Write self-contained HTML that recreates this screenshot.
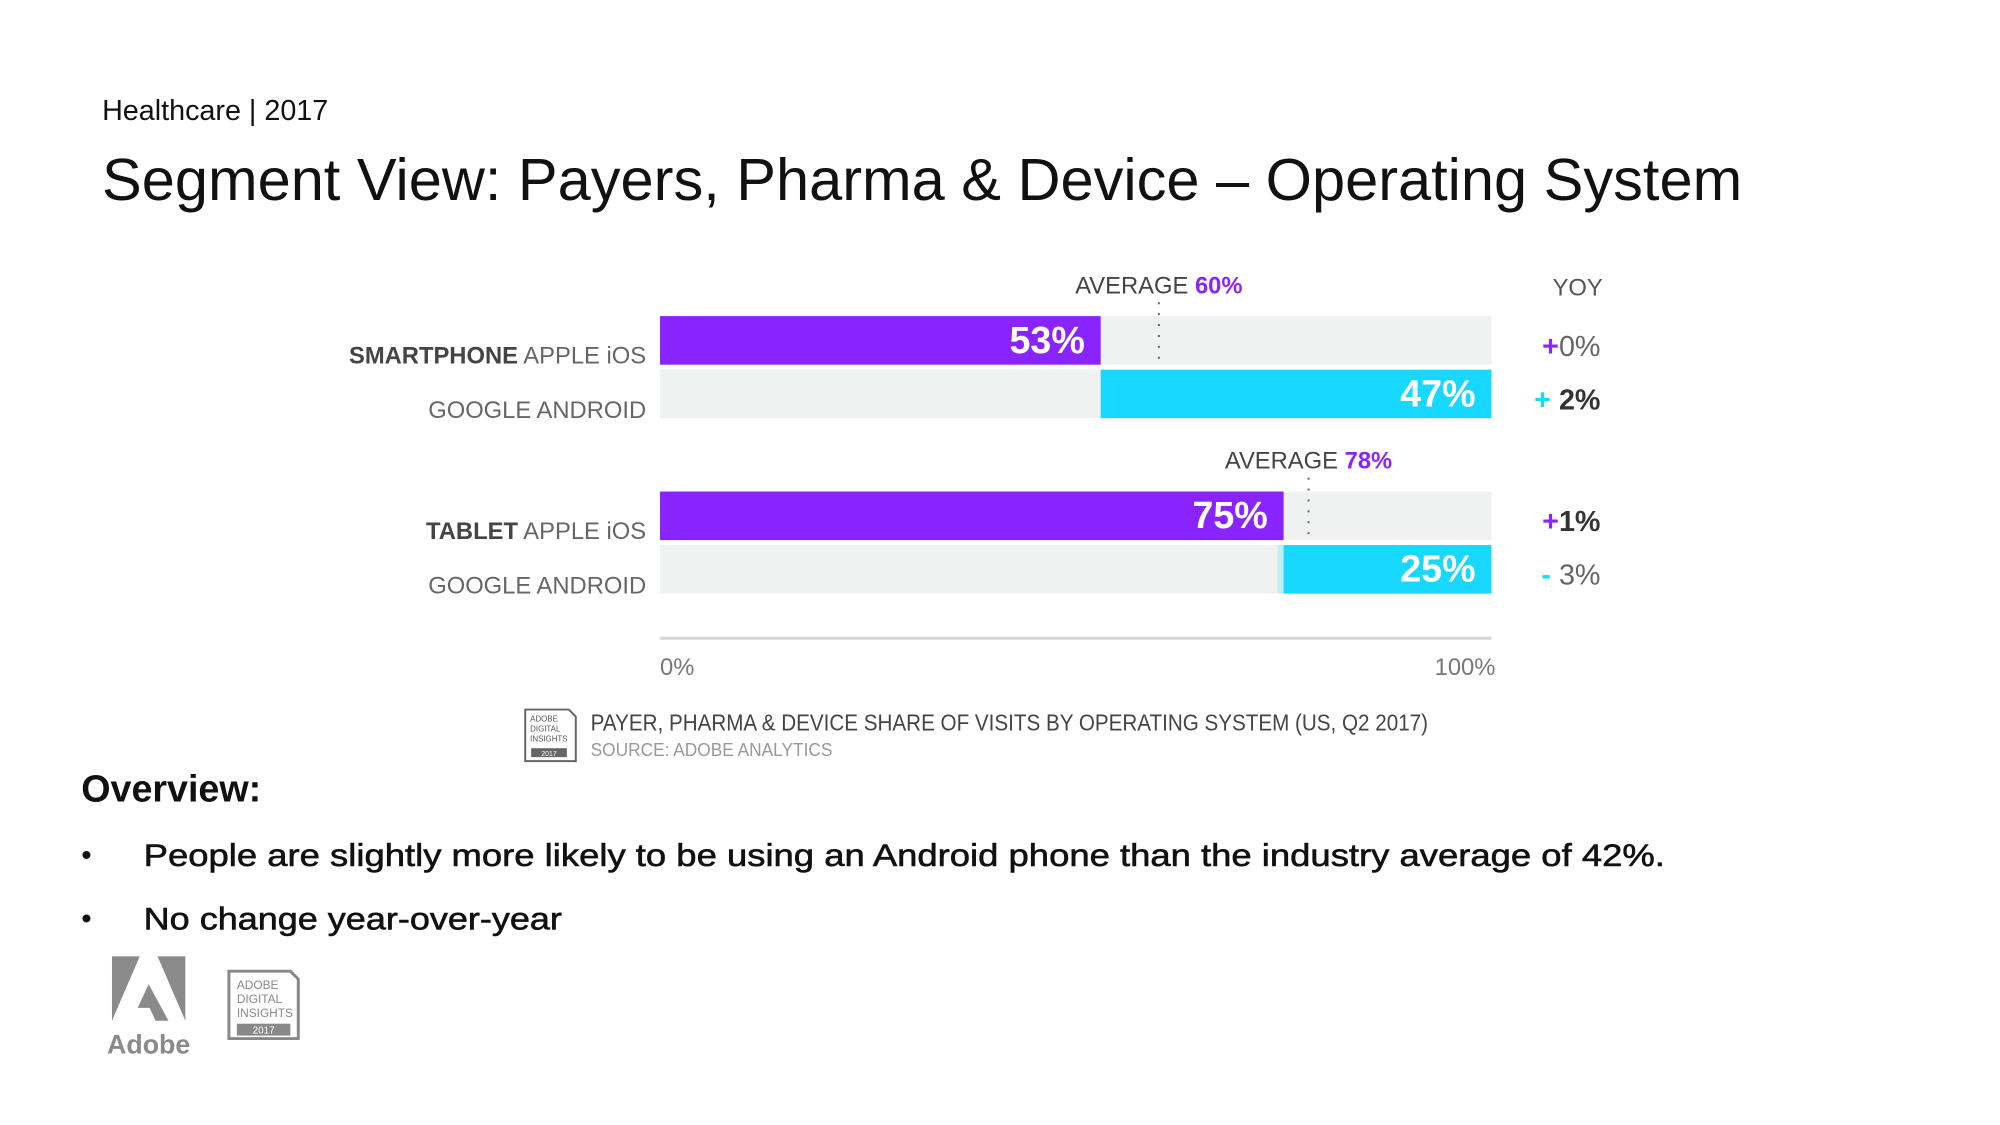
<!DOCTYPE html>
<html><head><meta charset="utf-8"><style>
html,body{margin:0;padding:0;background:#fff;}
svg{display:block;font-family:"Liberation Sans",sans-serif;}
</style></head><body>
<svg id="c" width="2000" height="1125" viewBox="0 0 2000 1125">
<g transform="scale(0.991)">
<text x="103" y="121" font-size="29" fill="#111">Healthcare | 2017</text>
<text x="103" y="202" font-size="60" fill="#111" textLength="1655" lengthAdjust="spacingAndGlyphs">Segment View: Payers, Pharma &amp; Device – Operating System</text>
<g id="chart"></g>
<line x1="666" y1="644" x2="1505" y2="644" stroke="#d6d6d6" stroke-width="3"/>
<text x="666" y="681" font-size="24" fill="#777">0%</text>
<text x="1509" y="681" font-size="24" fill="#777" text-anchor="end">100%</text>
<text x="1592" y="298" font-size="24" fill="#555" text-anchor="middle">YOY</text>
<g>
<path d="M530 716 h44 l7 7 v45 h-51 z" fill="#fff" stroke="#666" stroke-width="2"/>
<text x="535" y="728" font-size="8" fill="#555">ADOBE</text>
<text x="535" y="738" font-size="8" fill="#555">DIGITAL</text>
<text x="535" y="748" font-size="8" fill="#555">INSIGHTS</text>
<rect x="536" y="755" width="36" height="9" fill="#666"/>
<text x="554" y="763" font-size="7" fill="#fff" text-anchor="middle">2017</text>
</g>
<text x="596" y="737" font-size="23" fill="#444" textLength="845" lengthAdjust="spacingAndGlyphs">PAYER, PHARMA &amp; DEVICE SHARE OF VISITS BY OPERATING SYSTEM (US, Q2 2017)</text>
<text x="596" y="763" font-size="19" fill="#999" textLength="244" lengthAdjust="spacingAndGlyphs">SOURCE: ADOBE ANALYTICS</text>
<text x="82" y="809" font-size="38" font-weight="bold" fill="#111">Overview:</text>
<text x="82" y="873" font-size="30" fill="#111">•</text>
<text x="145" y="874" font-size="32" fill="#111" stroke="#111" stroke-width="0.6" textLength="1535" lengthAdjust="spacingAndGlyphs">People are slightly more likely to be using an Android phone than the industry average of 42%.</text>
<text x="82" y="937" font-size="30" fill="#111">•</text>
<text x="145" y="938" font-size="32" fill="#111" stroke="#111" stroke-width="0.6" textLength="422" lengthAdjust="spacingAndGlyphs">No change year-over-year</text>
<g>
<path d="M113 965 h28 L113 1030 z" fill="#8a8a8a"/>
<path d="M159 965 h28 v65 z" fill="#8a8a8a"/>
<path d="M150 993 l20 37 h-13 l-6 -13 h-12 z" fill="#8a8a8a"/>
<text x="150" y="1063" font-size="27" font-weight="bold" fill="#8a8a8a" text-anchor="middle">Adobe</text>
</g>
<g>
<path d="M231 980 h62 l8 8 v60 h-70 z" fill="#fff" stroke="#888" stroke-width="3"/>
<text x="239" y="998" font-size="12" fill="#888">ADOBE</text>
<text x="239" y="1012" font-size="12" fill="#888">DIGITAL</text>
<text x="239" y="1026" font-size="12" fill="#888">INSIGHTS</text>
<rect x="239" y="1033" width="54" height="12" fill="#888"/>
<text x="266" y="1043" font-size="10" fill="#fff" text-anchor="middle">2017</text>
</g>
</g>
</svg>
<script>
const groups = ["SMARTPHONE", "TABLET"];
const iosValues = [53, 75];
const androidValues = [47, 25];
const averages = [60, 78];
const iosYoy = ["+", "0%", "+", "1%"];
const androidYoy = ["+", "2%", "-", "3%"];
const iosYoyBold = [false, true];
const androidYoyBold = [true, false];

const NS = "http://www.w3.org/2000/svg";
const g = document.getElementById("chart");
const X0 = 666, W = 839;
const x = v => X0 + v / 100 * W;
const gy = i => 319 + i * 177;
const BH = 49;
function mk(tag, attrs, parent) {
  const e = document.createElementNS(NS, tag);
  for (const k in attrs) e.setAttribute(k, attrs[k]);
  (parent || g).appendChild(e);
  return e;
}
groups.forEach((name, i) => {
  const y1 = gy(i), y2 = y1 + 54;
  let bg = mk("rect", {x: X0, y: y1, width: W, height: BH, fill: "#f0f1f1"});
  
  
  let bg2 = mk("rect", {x: X0, y: y2, width: W, height: BH, fill: "#f0f1f1"});
  
  
  let b1 = mk("rect", {x: X0, y: y1, width: x(iosValues[i]) - X0, height: BH, fill: "#8a24ff"});
  
  
  if (i === 1) {
    let edge = mk("rect", {x: x(100 - androidValues[i]) - 6, y: y2, width: 6, height: BH, fill: "#bfeef8"});
    
    
  }
  let b2 = mk("rect", {x: x(100 - androidValues[i]), y: y2, width: x(100) - x(100 - androidValues[i]), height: BH, fill: "#18d8ff"});
  
  
  let t1 = mk("text", {x: x(iosValues[i]) - 16, y: y1 + 37, "font-size": 38, "font-weight": "bold", fill: "#fff", "text-anchor": "end"});
  t1.textContent = iosValues[i] + "%";
  
  
  let t2 = mk("text", {x: x(100) - 16, y: y2 + 37, "font-size": 38, "font-weight": "bold", fill: "#fff", "text-anchor": "end"});
  t2.textContent = androidValues[i] + "%";
  
  
  const ax = x(averages[i]);
  let al = mk("line", {x1: ax, y1: y1 - 14, x2: ax, y2: y1 + BH, stroke: "#666", "stroke-width": 2, "stroke-dasharray": "2 9"});
  
  
  let at = mk("text", {x: ax, y: y1 - 23, "font-size": 24, fill: "#444", "text-anchor": "middle"});
  
  
  at.innerHTML = 'AVERAGE <tspan fill="#8a24ff" font-weight="bold">' + averages[i] + '%</tspan>';
  let l1 = mk("text", {x: 652, y: y1 + 48, "font-size": 24, fill: "#666", "text-anchor": "end"});
  
  
  l1.innerHTML = '<tspan font-weight="bold" fill="#444">' + name + '</tspan> APPLE iOS';
  let l2 = mk("text", {x: 652, y: y2 + 49, "font-size": 24, fill: "#666", "text-anchor": "end"});
  l2.textContent = "GOOGLE ANDROID";
  
  
  let y1t = mk("text", {x: 1615, y: y1 + 40, "font-size": 29, fill: "#666", "text-anchor": "end"});
  
  
  y1t.innerHTML = '<tspan fill="#8a24ff" font-weight="bold">' + iosYoy[i*2] + '</tspan>' + (iosYoyBold[i] ? '<tspan font-weight="bold" fill="#333">' : '<tspan>') + iosYoy[i*2+1] + '</tspan>';
  let y2t = mk("text", {x: 1615, y: y2 + 40, "font-size": 29, fill: "#666", "text-anchor": "end"});
  
  
  y2t.innerHTML = '<tspan fill="#18d8ff" font-weight="bold">' + androidYoy[i*2] + ' </tspan>' + (androidYoyBold[i] ? '<tspan font-weight="bold" fill="#333">' : '<tspan>') + androidYoy[i*2+1] + '</tspan>';
});
</script>
</body></html>
